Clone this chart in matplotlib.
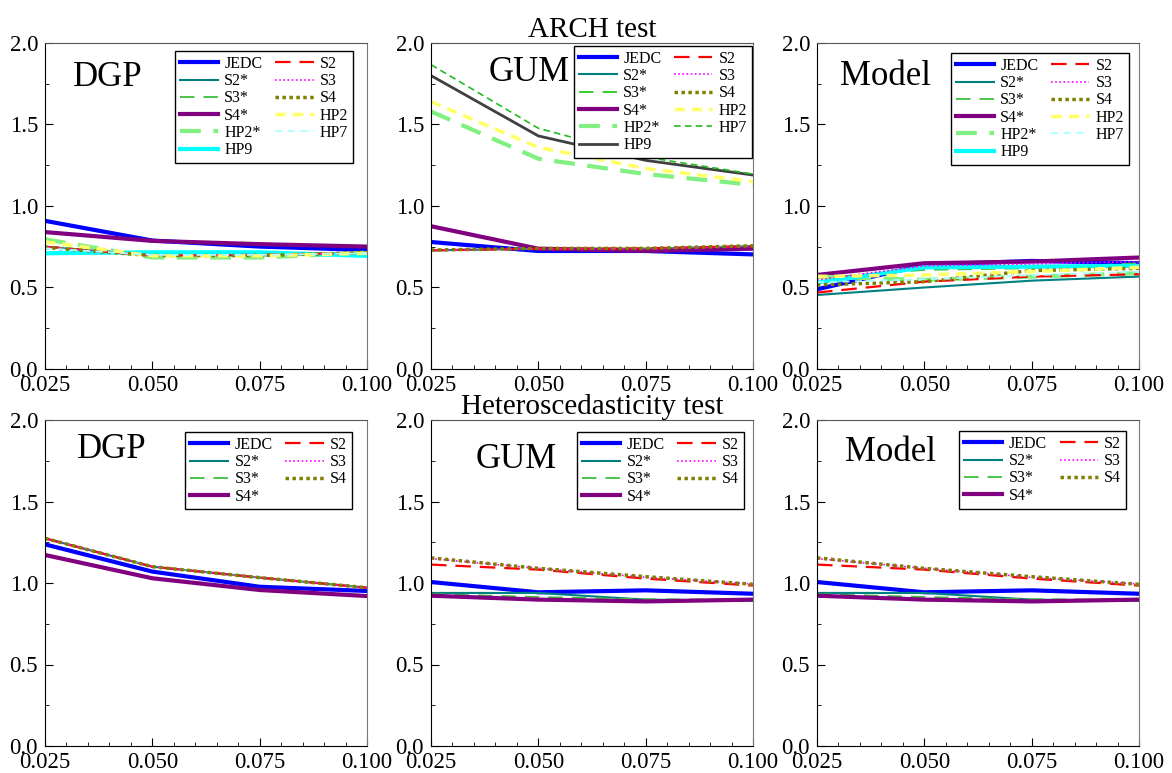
import matplotlib.pyplot as plt
from matplotlib.ticker import MultipleLocator
import numpy as np

plt.rcParams['font.family'] = ['Liberation Serif', 'DejaVu Serif']
plt.rcParams['mathtext.fontset'] = 'stix'

alpha = [0.025, 0.050, 0.075, 0.100]

# ARCH test
arch_dgp = {
    'JEDC': [0.909, 0.788, 0.751, 0.730],
    'S2*':  [0.750, 0.696, 0.696, 0.714],
    'S3*':  [0.752, 0.698, 0.698, 0.714],
    'S4*':  [0.840, 0.786, 0.766, 0.751],
    'HP2*': [0.796, 0.684, 0.684, 0.714],
    'HP9':  [0.710, 0.716, 0.716, 0.694],
    'S2':   [0.750, 0.696, 0.700, 0.714],
    'S3':   [0.748, 0.698, 0.698, 0.712],
    'S4':   [0.745, 0.696, 0.696, 0.714],
    'HP2':  [0.780, 0.694, 0.694, 0.710],
    'HP7':  [0.740, 0.700, 0.700, 0.710],
}
arch_gum = {
    'JEDC': [0.779, 0.724, 0.724, 0.703],
    'S2*':  [0.728, 0.738, 0.738, 0.754],
    'S3*':  [0.728, 0.738, 0.738, 0.752],
    'S4*':  [0.876, 0.738, 0.724, 0.738],
    'HP2*': [1.580, 1.290, 1.196, 1.130],
    'HP9':  [1.800, 1.430, 1.280, 1.190],
    'S2':   [0.728, 0.738, 0.740, 0.754],
    'S3':   [0.728, 0.738, 0.738, 0.752],
    'S4':   [0.730, 0.740, 0.740, 0.756],
    'HP2':  [1.640, 1.360, 1.230, 1.150],
    'HP7':  [1.867, 1.477, 1.300, 1.196],
}
arch_model = {
    'JEDC': [0.489, 0.639, 0.663, 0.649],
    'S2*':  [0.454, 0.500, 0.542, 0.567],
    'S3*':  [0.557, 0.608, 0.618, 0.649],
    'S4*':  [0.577, 0.649, 0.659, 0.684],
    'HP2*': [0.567, 0.547, 0.567, 0.588],
    'HP9':  [0.530, 0.624, 0.628, 0.633],
    'S2':   [0.469, 0.536, 0.567, 0.581],
    'S3':   [0.547, 0.633, 0.645, 0.659],
    'S4':   [0.516, 0.536, 0.604, 0.618],
    'HP2':  [0.567, 0.577, 0.598, 0.624],
    'HP7':  [0.532, 0.550, 0.575, 0.598],
}

# Heteroscedasticity test
het_dgp = {
    'JEDC': [1.237, 1.070, 0.977, 0.951],
    'S2*':  [1.274, 1.100, 1.033, 0.971],
    'S3*':  [1.274, 1.100, 1.033, 0.971],
    'S4*':  [1.172, 1.029, 0.957, 0.920],
    'S2':   [1.274, 1.100, 1.033, 0.971],
    'S3':   [1.274, 1.100, 1.033, 0.971],
    'S4':   [1.274, 1.100, 1.033, 0.971],
}
het_gum = {
    'JEDC': [1.006, 0.943, 0.955, 0.934],
    'S2*':  [0.939, 0.939, 0.898, 0.891],
    'S3*':  [0.932, 0.914, 0.900, 0.898],
    'S4*':  [0.922, 0.898, 0.887, 0.898],
    'S2':   [1.113, 1.082, 1.027, 0.984],
    'S3':   [1.150, 1.090, 1.035, 0.994],
    'S4':   [1.154, 1.090, 1.039, 0.992],
}
het_model = {
    'JEDC': [1.006, 0.943, 0.955, 0.934],
    'S2*':  [0.939, 0.939, 0.898, 0.891],
    'S3*':  [0.932, 0.914, 0.900, 0.898],
    'S4*':  [0.922, 0.898, 0.887, 0.898],
    'S2':   [1.113, 1.082, 1.027, 0.984],
    'S3':   [1.150, 1.090, 1.035, 0.994],
    'S4':   [1.154, 1.090, 1.039, 0.992],
}

styles = {
    'JEDC': dict(color='#0000ff', lw=3.0, ls='-'),
    'S2*':  dict(color='#008080', lw=1.5, ls='-'),
    'S3*':  dict(color='#3cc03c', lw=1.3, ls=(0, (8, 5))),
    'S4*':  dict(color='#800080', lw=3.0, ls='-'),
    'HP2*': dict(color='#80f080', lw=3.0, ls=(0, (5, 3))),
    'HP9':  dict(color='#00ffff', lw=3.0, ls='-'),
    'S2':   dict(color='#ff0000', lw=1.6, ls=(0, (7, 4))),
    'S3':   dict(color='#ff00ff', lw=1.2, ls=(0, (1, 1.5))),
    'S4':   dict(color='#808000', lw=2.5, ls=(0, (1, 1))),
    'HP2':  dict(color='#ffff66', lw=2.5, ls=(0, (3, 2))),
    'HP7':  dict(color='#aaffff', lw=1.3, ls=(0, (4, 3))),
}
gum_override = {
    'HP9': dict(color='#404040', lw=2.0, ls='-'),
    'HP7': dict(color='#22bb22', lw=1.2, ls=(0, (4, 2.5))),
    'S3*': dict(color='#22cc22', lw=1.3, ls=(0, (8, 5))),
}

panels = [
    (arch_dgp, 'DGP', (0.196, 0.893), (0.957, 0.975), None),
    (arch_gum, 'GUM', (0.304, 0.908), (0.997, 0.991), 'ARCH test'),
    (arch_model, 'Model', (0.214, 0.896), (0.969, 0.969), None),
    (het_dgp, 'DGP', (0.208, 0.911), (0.953, 0.963), None),
    (het_gum, 'GUM', (0.264, 0.880), (0.972, 0.963), 'Heteroscedasticity test'),
    (het_model, 'Model', (0.227, 0.899), (0.960, 0.966), None),
]

fig = plt.figure(figsize=(11.72, 7.73), dpi=100)
W, H = 1172, 773
lefts = [45, 431, 817]
tops = [43, 420]
aw, ah = 322, 326

for k, (data, label, lpos, legpos, title) in enumerate(panels):
    row, col = divmod(k, 3)
    ax = fig.add_axes([lefts[col] / W, 1 - (tops[row] + ah) / H, aw / W, ah / H])
    for name, vals in data.items():
        st = dict(styles[name])
        if label == 'GUM' and row == 0 and name in gum_override:
            st = dict(gum_override[name])
        ax.plot(alpha, vals, label=name, **st)
    ax.set_xlim(0.025, 0.100)
    ax.set_ylim(0.0, 2.0)
    ax.set_xticks(alpha)
    ax.set_xticklabels(['0.025', '0.050', '0.075', '0.100'])
    ax.set_yticks([0.0, 0.5, 1.0, 1.5, 2.0])
    ax.xaxis.set_minor_locator(MultipleLocator(0.005))
    ax.yaxis.set_minor_locator(MultipleLocator(0.25))
    ax.tick_params(which='both', direction='in', labelsize=16.5, top=False, right=False)
    ax.tick_params(which='major', length=6)
    ax.tick_params(axis='x', which='major', pad=4.5)
    ax.tick_params(axis='y', which='major', pad=5)
    ax.tick_params(which='minor', length=3)
    ax.spines['right'].set_color('#777777')
    ax.spines['top'].set_color('#555555')
    ax.text(lpos[0], lpos[1], label, transform=ax.transAxes, fontsize=25,
            ha='center', va='center')
    leg = ax.legend(ncol=2, loc='upper right', bbox_to_anchor=legpos,
                    fontsize=11.5, frameon=True, fancybox=False, framealpha=1,
                    edgecolor='black', borderpad=0.3, labelspacing=0.08,
                    handlelength=2.4, handletextpad=0.4, columnspacing=0.8,
                    borderaxespad=0.0)
    leg.get_frame().set_linewidth(1.0)
    if title:
        ax.set_title(title, fontsize=21, pad=1)

fig.savefig('out.png', dpi=100)
